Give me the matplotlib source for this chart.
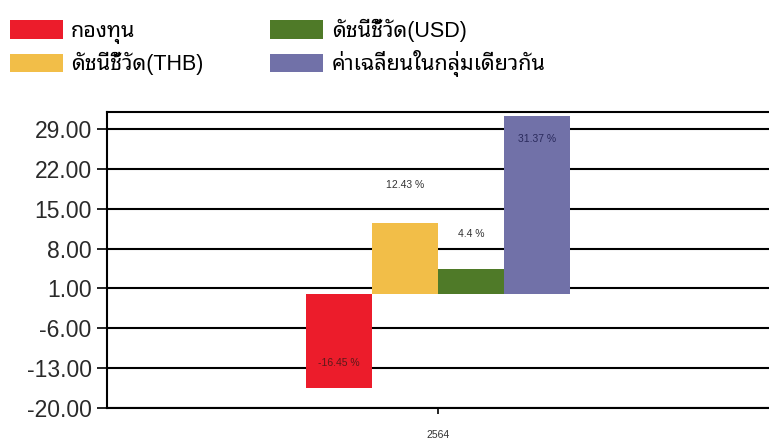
import matplotlib.pyplot as plt
import numpy as np

plt.rcParams['font.family'] = ['Liberation Sans', 'Noto Sans Thai Looped']

# data
year = "2564"
series = ["กองทุน", "ดัชนีชี้วัด(THB)", "ดัชนีชี้วัด(USD)", "ค่าเฉลี่ยนในกลุ่มเดียวกัน"]
returns = [-16.45, 12.43, 4.4, 31.37]
labels = ["-16.45 %", "12.43 %", "4.4 %", "31.37 %"]
colors = ["#EC1C2B", "#F2BE48", "#4F7A28", "#7171A8"]
label_colors = ["#5A1A1A", "#333333", "#333333", "#2A2A5C"]
yticks = [-20, -13, -6, 1, 8, 15, 22, 29]

fig = plt.figure(figsize=(7.69, 4.46), dpi=100)
ax = fig.add_axes([107 / 769, 38 / 446, 662 / 769, 296 / 446])

w = 0.1
offsets = (np.arange(len(returns)) - 1.5) * w
bars = ax.bar(offsets, returns, width=w, color=colors, zorder=2)

# value labels: pixel shift from the end of each bar (up is positive)
label_shift = [25, 38, 35, -23]
for b, v, txt, c, s in zip(bars, returns, labels, label_colors, label_shift):
    x = b.get_x() + b.get_width() / 2
    ax.annotate(txt, (x, v), xytext=(0, s), textcoords="offset pixels",
                ha="center", va="center", fontsize=7.5, color=c, zorder=3)

ax.set_xlim(-0.5, 0.5)
ax.set_ylim(-20, 32)
ax.set_yticks(yticks)
ax.set_yticklabels(["%.2f" % t for t in yticks], fontsize=16.5, color="#2A2A2A")
ax.set_xticks([0])
ax.set_xticklabels([year], fontsize=7.5, color="#333333")
ax.tick_params(axis="y", length=7, width=1.2, pad=4)
ax.tick_params(axis="x", length=4, width=1.2, pad=12)

ax.grid(axis="y", color="black", linewidth=1.5, zorder=1)
ax.set_axisbelow(True)
for side in ["left", "top", "bottom"]:
    ax.spines[side].set_linewidth(1.5)
ax.spines["right"].set_visible(False)

fig.legend(bars, series, loc="upper left", bbox_to_anchor=(10 / 769, 1 - 18.5 / 446),
           ncol=2, frameon=False, fontsize=15.5, handlelength=2.45, handleheight=0.95,
           handletextpad=0.4, columnspacing=3.1, labelspacing=0.4, borderpad=0.0,
           borderaxespad=0.0)

fig.savefig("out.png")
